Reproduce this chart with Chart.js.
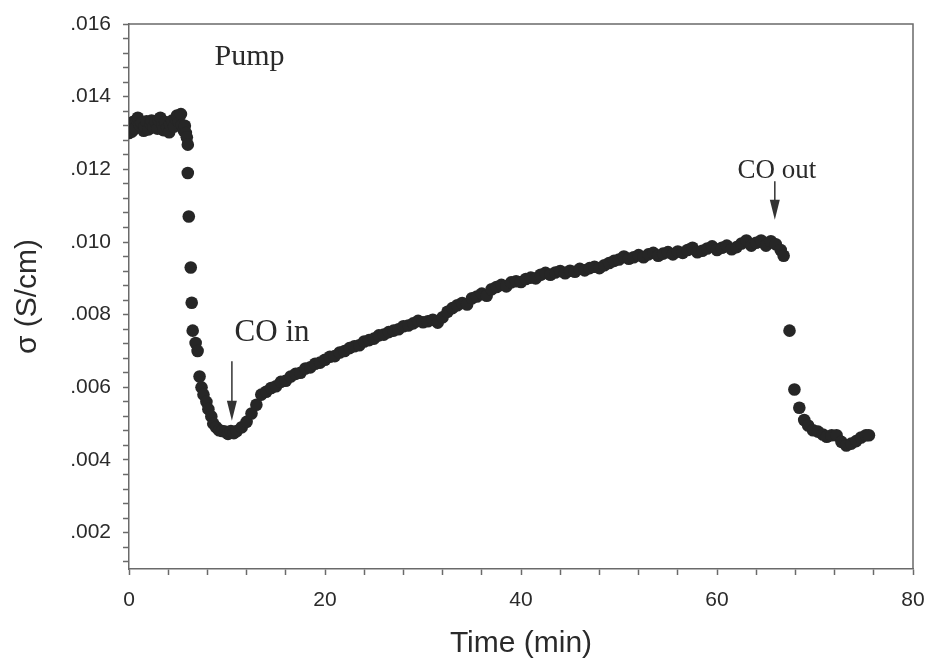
<!DOCTYPE html>
<html>
<head>
<meta charset="utf-8">
<script src="https://cdn.jsdelivr.net/npm/chart.js@4.4.1/dist/chart.umd.min.js"></script>
<style>
  body { margin: 0; background: #fff; }
  #wrap { width: 927px; height: 662px; }
</style>
</head>
<body>
<div id="wrap"><canvas id="chart" width="927" height="662"></canvas></div>
<script>
const timeMin = [
  0.0, 0.1, 0.3, 0.4, 0.6, 0.8, 0.9, 1.1, 1.3, 1.5, 1.6, 1.8, 2.0, 2.2, 2.3, 2.5, 2.7, 2.9, 3.0, 3.2,
  3.4, 3.5, 3.7, 3.9, 4.1, 4.2, 4.4, 4.6, 4.8, 4.9, 5.1, 5.3, 5.4, 5.6, 5.7, 5.8, 5.9, 6.0,
  6.0, 6.1, 6.3, 6.4, 6.5, 6.8, 7.0,
  7.2, 7.4, 7.6, 7.9, 8.1, 8.4, 8.6, 8.9, 9.2, 9.5, 9.8, 10.1, 10.4, 10.7, 11.0,
  11.5, 12.0, 12.5, 13.0, 13.5, 14.0, 14.5, 15.0, 15.5, 16.0, 16.5, 17.0, 17.5, 18.0, 18.5, 19.0, 19.5,
  20.0, 20.5, 21.0, 21.5, 22.0, 22.5, 23.0, 23.5, 24.0, 24.5, 25.0, 25.5, 26.0, 26.5, 27.0, 27.5, 28.0,
  28.5, 29.0, 29.5, 30.0, 30.5, 31.0, 31.5, 32.0, 32.5, 33.0, 33.5, 34.0, 34.5, 35.0, 35.5, 36.0, 36.5,
  37.0, 37.5, 38.0, 38.5, 39.0, 39.5, 40.0, 40.5, 41.0, 41.5, 42.0, 42.5, 43.0, 43.5, 44.0, 44.5, 45.0,
  45.5, 46.0, 46.5, 47.0, 47.5, 48.0, 48.5, 49.0, 49.5, 50.0, 50.5, 51.0, 51.5, 52.0, 52.5, 53.0, 53.5,
  54.0, 54.5, 55.0, 55.5, 56.0, 56.5, 57.0, 57.5, 58.0, 58.5, 59.0, 59.5, 60.0, 60.5, 61.0, 61.5, 62.0,
  62.5, 63.0, 63.5, 64.0, 64.5, 65.0, 65.5, 66.0, 66.5, 66.8,
  67.4, 67.9, 68.4, 68.9, 69.3, 69.8, 70.3, 70.8, 71.2, 71.7, 72.2, 72.7, 73.2, 73.7, 74.2, 74.7, 75.2, 75.5
];

const sigma = [
  0.01300, 0.01326, 0.01304, 0.01330, 0.01312, 0.01336, 0.01342, 0.01322, 0.01328, 0.01306, 0.01318, 0.01332, 0.01310, 0.01326, 0.01334, 0.01316, 0.01330, 0.01312, 0.01336, 0.01342,
  0.01324, 0.01308, 0.01330, 0.01314, 0.01302, 0.01322, 0.01334, 0.01318, 0.01338, 0.01348, 0.01330, 0.01352, 0.01322, 0.01306, 0.01320, 0.01300, 0.01288, 0.01268,
  0.01190, 0.01070, 0.00930, 0.00833, 0.00756, 0.00722, 0.00700,
  0.00630, 0.00600, 0.00580, 0.00560, 0.00540, 0.00520, 0.00500, 0.00490, 0.00482, 0.00480, 0.00478, 0.00472, 0.00480, 0.00474, 0.00480,
  0.00490, 0.00505, 0.00528, 0.00552, 0.00580, 0.00588, 0.00598, 0.00603, 0.00615, 0.00618, 0.00630, 0.00637, 0.00640, 0.00652, 0.00655, 0.00665, 0.00668,
  0.00676, 0.00684, 0.00686, 0.00696, 0.00700, 0.00708, 0.00713, 0.00716, 0.00726, 0.00730, 0.00734, 0.00743, 0.00745, 0.00752, 0.00756, 0.00760, 0.00768,
  0.00770, 0.00776, 0.00783, 0.00779, 0.00782, 0.00786, 0.00778, 0.00793, 0.00808, 0.00818, 0.00826, 0.00832, 0.00828, 0.00845, 0.00850, 0.00858, 0.00852,
  0.00870, 0.00876, 0.00882, 0.00878, 0.00889, 0.00892, 0.00890, 0.00898, 0.00902, 0.00900, 0.00910, 0.00915, 0.00910, 0.00916, 0.00920, 0.00914, 0.00921,
  0.00918, 0.00926, 0.00922, 0.00928, 0.00932, 0.00928, 0.00936, 0.00942, 0.00948, 0.00952, 0.00960, 0.00954, 0.00958, 0.00964, 0.00958, 0.00966, 0.00970,
  0.00962, 0.00968, 0.00972, 0.00966, 0.00974, 0.00970, 0.00978, 0.00984, 0.00972, 0.00976, 0.00982, 0.00988, 0.00978, 0.00984, 0.00990, 0.00980, 0.00986,
  0.00996, 0.01004, 0.00990, 0.00998, 0.01004, 0.00990, 0.01002, 0.00994, 0.00978, 0.00962,
  0.00756, 0.00594, 0.00544, 0.00510, 0.00495, 0.00482, 0.00478, 0.00470, 0.00464, 0.00468, 0.00468, 0.00450, 0.00440, 0.00445, 0.00452, 0.00462, 0.00468, 0.00468
];

const xMajor = [0, 20, 40, 60, 80];
const yMajor = [0.002, 0.004, 0.006, 0.008, 0.010, 0.012, 0.014, 0.016];

// text notes and arrows, in data units
const noteText = ["Pump", "CO in", "CO out"];
const noteX = [12.3, 14.6, 66.1];
const noteY = [0.01508, 0.0075, 0.01197];
const noteSize = [30, 31, 27];
const arrowX = [10.5, 65.9];
const arrowFrom = [0.00672, 0.01167];
const arrowTo = [0.00508, 0.01061];

const axisColor = "#6a6a6a";
const textColor = "#2a2a2a";

function minorTicks(majors, parts, extraLow) {
  const out = [];
  const step = (majors[1] - majors[0]) / parts;
  let start = majors[0] - step * extraLow;
  const end = majors[majors.length - 1];
  for (let v = start; v <= end + step / 2; v += step) out.push({ value: v });
  return out;
}

function isMajor(list, v, tol) {
  return list.some(m => Math.abs(m - v) < tol);
}

const notesPlugin = {
  id: "notes",
  afterDatasetsDraw(chart) {
    const { ctx, scales: { x, y }, chartArea } = chart;
    ctx.save();
    // frame on the top and right
    ctx.strokeStyle = axisColor;
    ctx.lineWidth = 1.5;
    ctx.beginPath();
    ctx.moveTo(chartArea.left, chartArea.top);
    ctx.lineTo(chartArea.right, chartArea.top);
    ctx.lineTo(chartArea.right, chartArea.bottom);
    ctx.stroke();

    ctx.fillStyle = textColor;
    ctx.textAlign = "center";
    ctx.textBaseline = "middle";
    noteText.forEach((t, i) => {
      ctx.font = noteSize[i] + "px 'Liberation Serif', 'Times New Roman', serif";
      ctx.fillText(t, x.getPixelForValue(noteX[i]), y.getPixelForValue(noteY[i]));
    });

    ctx.strokeStyle = "#333";
    ctx.fillStyle = "#333";
    ctx.lineWidth = 1.5;
    arrowX.forEach((ax, i) => {
      const px = x.getPixelForValue(ax);
      const y0 = y.getPixelForValue(arrowFrom[i]);
      const y1 = y.getPixelForValue(arrowTo[i]);
      ctx.beginPath();
      ctx.moveTo(px, y0);
      ctx.lineTo(px, y1 - 14);
      ctx.stroke();
      ctx.beginPath();
      ctx.moveTo(px - 5, y1 - 20);
      ctx.lineTo(px + 5, y1 - 20);
      ctx.lineTo(px, y1);
      ctx.closePath();
      ctx.fill();
    });
    ctx.restore();
  }
};

const points = timeMin.map((t, i) => ({ x: t, y: sigma[i] }));

new Chart(document.getElementById("chart"), {
  type: "scatter",
  data: {
    datasets: [{
      label: "sigma",
      data: points,
      pointRadius: 6.3,
      pointHoverRadius: 6.3,
      pointBorderWidth: 0,
      backgroundColor: "#262626"
    }]
  },
  options: {
    responsive: false,
    animation: false,
    layout: { padding: { left: 0, right: 14, top: 24, bottom: 0 }, autoPadding: false },
    plugins: {
      legend: { display: false },
      tooltip: { enabled: false }
    },
    scales: {
      x: {
        type: "linear",
        min: 0,
        max: 80,
        afterFit: s => { s.height = 93; s.paddingLeft = 0; s.paddingRight = 0; },
        afterBuildTicks: s => { s.ticks = minorTicks(xMajor, 5, 0); },
        grid: { drawOnChartArea: false, drawTicks: true, tickLength: 6, tickColor: axisColor, tickWidth: 1.5 },
        border: { display: true, color: axisColor, width: 1.5 },
        ticks: {
          autoSkip: false,
          maxRotation: 0,
          padding: 13,
          color: textColor,
          font: { family: "'Liberation Sans', Arial, sans-serif", size: 21 },
          callback: v => isMajor(xMajor, v, 1e-6) ? String(Math.round(v)) : ""
        },
        title: {
          display: true,
          text: "Time (min)",
          color: textColor,
          font: { family: "'Liberation Sans', Arial, sans-serif", size: 30, lineHeight: 1.2 },
          padding: { top: 0, bottom: 0 }
        }
      },
      y: {
        type: "linear",
        min: 0.001,
        max: 0.016,
        afterFit: s => { s.width = 129; s.paddingTop = 0; s.paddingBottom = 0; },
        afterBuildTicks: s => { s.ticks = minorTicks(yMajor, 5, 2); },
        grid: { drawOnChartArea: false, drawTicks: true, tickLength: 6, tickColor: axisColor, tickWidth: 1.5 },
        border: { display: true, color: axisColor, width: 1.5 },
        ticks: {
          autoSkip: false,
          padding: 12,
          color: textColor,
          font: { family: "'Liberation Sans', Arial, sans-serif", size: 21 },
          callback: v => isMajor(yMajor, v, 1e-7) ? v.toFixed(3).slice(1) : ""
        },
        title: {
          display: true,
          text: "σ (S/cm)",
          color: textColor,
          font: { family: "'Liberation Sans', Arial, sans-serif", size: 30, lineHeight: 1.2 },
          padding: { top: 10, bottom: 0 }
        }
      }
    }
  },
  plugins: [notesPlugin]
});
</script>
</body>
</html>
